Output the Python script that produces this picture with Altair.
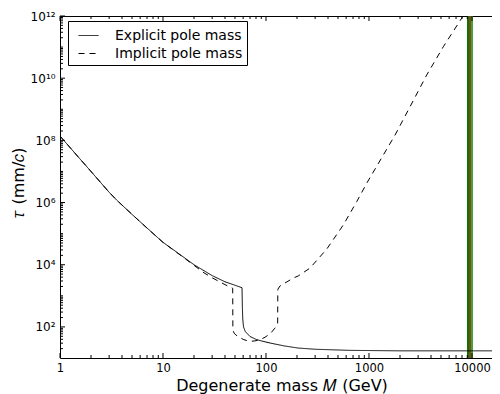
import altair as alt
import pandas as pd

# ---------------- data ----------------
series_names = ["Explicit pole mass", "Implicit pole mass"]

m_explicit = [1, 1.5, 2, 3, 3.55, 5, 7, 10, 15, 20,
              30, 40, 50, 58.5, 59.0, 59.5, 60.5, 63, 70, 80,
              90, 110, 150, 205, 300, 655, 2000, 20000]
tau_explicit = [1.38e8, 2.95e7, 1.0e7, 2.14e6, 1.2e6, 4.17e5, 1.51e5, 5.25e4, 2.0e4, 1.0e4,
                4470, 2820, 2190, 1820, 398, 178, 100, 70.8, 49, 39.8,
                35.5, 30.2, 24.5, 20.9, 19.1, 17.6, 17.0, 17.0]

m_implicit = [1, 1.5, 2, 3, 3.55, 5, 7, 10, 15, 20,
              25, 30, 40, 47.5, 47.7, 49, 51, 53.8, 60, 65,
              72, 78, 88, 98, 110, 122, 127, 129.8, 130.2, 137,
              160, 184, 206, 267, 388, 563, 760, 950, 1790, 2500,
              3630, 5260, 7940, 8300]
tau_implicit = [1.38e8, 2.95e7, 1.0e7, 2.14e6, 1.2e6, 4.17e5, 1.51e5, 5.25e4, 1.95e4, 9550,
                5500, 3800, 2290, 1740, 79.4, 63.1, 55, 49, 39.8, 36.3,
                34.7, 35.5, 38.9, 46.8, 60.3, 91.2, 112, 126, 1620, 2090,
                2820, 3720, 4370, 7760, 3.16e4, 1.9e5, 1.07e6, 4.17e6, 1.48e8, 1.2e9,
                1.26e10, 1.02e11, 8.5e11, 1.12e12]

band_lo = [8944, 9560]
band_hi = [9560, 10226]
band_colors = ["#007a00", "#3ba83b"]
band_line = [9560]

x_major = [1, 10, 100, 1000, 10000]
x_minor = [k * 10 ** e for e in range(0, 5) for k in range(2, 10) if k * 10 ** e <= 20000]
y_major = [1e2, 1e4, 1e6, 1e8, 1e10, 1e12]
y_minor = [k * 10.0 ** e for e in range(1, 12) for k in range(2, 10)] + [1e3, 1e5, 1e7, 1e9, 1e11]

y_label_text = {1e2: "10²", 1e4: "10⁴", 1e6: "10⁶", 1e8: "10⁸", 1e10: "10¹⁰", 1e12: "10¹²"}

# ---------------- chart ----------------
W, H = 443, 342
FONT = "DejaVu Sans"

xs = alt.Scale(type="log", domain=[1, 20000], nice=False)
ys = alt.Scale(type="log", domain=[10, 1e12], nice=False)

label_expr = ""
for v, t in y_label_text.items():
    label_expr += f"datum.value == {v:.0f} ? '{t}' : "
label_expr += "''"

xaxis = alt.Axis(
    values=x_major, format="d", title="Degenerate mass 𝑀 (GeV)",
    ticks=False, domain=False, grid=False,
    labelFont=FONT, labelFontSize=11.5, labelColor="black", labelPadding=4,
    labelFlush=False, labelOverlap=False,
    titleFont=FONT, titleFontSize=16, titleFontWeight="normal", titleColor="black",
    titlePadding=4)
yaxis = alt.Axis(
    values=y_major, labelExpr=label_expr, title="𝜏 (mm/𝑐)",
    ticks=False, domain=False, grid=False,
    labelFont=FONT, labelFontSize=12, labelColor="black", labelPadding=5,
    labelFlush=False, labelOverlap=False,
    titleFont=FONT, titleFontSize=16, titleFontWeight="normal", titleColor="black",
    titlePadding=4, titleY=166)

lines_df = pd.DataFrame({
    "m": m_explicit + m_implicit,
    "tau": tau_explicit + tau_implicit,
    "series": [series_names[0]] * len(m_explicit) + [series_names[1]] * len(m_implicit),
})

lines = alt.Chart(lines_df).mark_line(color="black", strokeWidth=1, clip=True).encode(
    x=alt.X("m:Q", scale=xs, axis=xaxis),
    y=alt.Y("tau:Q", scale=ys, axis=yaxis),
    strokeDash=alt.StrokeDash("series:N",
        scale=alt.Scale(domain=series_names, range=[[1, 0], [6, 5]]),
        legend=alt.Legend(title=None, orient="none", legendX=8, legendY=5,
                          strokeColor="black", fillColor="white", padding=4,
                          symbolType="stroke", symbolSize=400, symbolStrokeWidth=1,
                          symbolStrokeColor="black", symbolOffset=6,
                          labelFont=FONT, labelFontSize=14, labelColor="black",
                          labelOffset=16, rowPadding=0, cornerRadius=0)),
)

band_df = pd.DataFrame({"x0": band_lo, "x1": band_hi, "c": band_colors})
band = alt.Chart(band_df).mark_rect().encode(
    x=alt.X("x0:Q", scale=xs, axis=xaxis), x2="x1:Q",
    y=alt.value(0), y2=alt.value(H),
    color=alt.Color("c:N", scale=None),
)
band_rule = alt.Chart(pd.DataFrame({"x": band_line})).mark_rule(
    color="#8B4513", strokeWidth=2).encode(
    x=alt.X("x:Q", scale=xs, axis=xaxis), y=alt.value(0), y2=alt.value(H))


def xticks(vals, length):
    df = pd.DataFrame({"v": vals})
    bottom = alt.Chart(df).mark_rule(color="black", strokeWidth=1).encode(
        x=alt.X("v:Q", scale=xs, axis=xaxis), y=alt.value(H), y2=alt.value(H - length))
    top = alt.Chart(df).mark_rule(color="black", strokeWidth=1).encode(
        x=alt.X("v:Q", scale=xs, axis=xaxis), y=alt.value(0), y2=alt.value(length))
    return [bottom, top]


def yticks(vals, length):
    df = pd.DataFrame({"v": vals})
    left = alt.Chart(df).mark_rule(color="black", strokeWidth=1).encode(
        y=alt.Y("v:Q", scale=ys, axis=yaxis), x=alt.value(0), x2=alt.value(length))
    right = alt.Chart(df).mark_rule(color="black", strokeWidth=1).encode(
        y=alt.Y("v:Q", scale=ys, axis=yaxis), x=alt.value(W), x2=alt.value(W - length))
    return [left, right]


tick_layers = xticks(x_major, 5) + xticks(x_minor, 3) + yticks(y_major, 5) + yticks(y_minor, 3)

chart = alt.layer(band, band_rule, lines, *tick_layers).properties(
    width=W, height=H,
    autosize=alt.AutoSizeParams(type="none"),
    padding={"left": 52, "top": 8, "right": -11, "bottom": 36},
    background="white",
).configure_view(stroke="black", strokeWidth=1)

chart.save("out.html", embed_options={"renderer": "svg", "actions": False})
